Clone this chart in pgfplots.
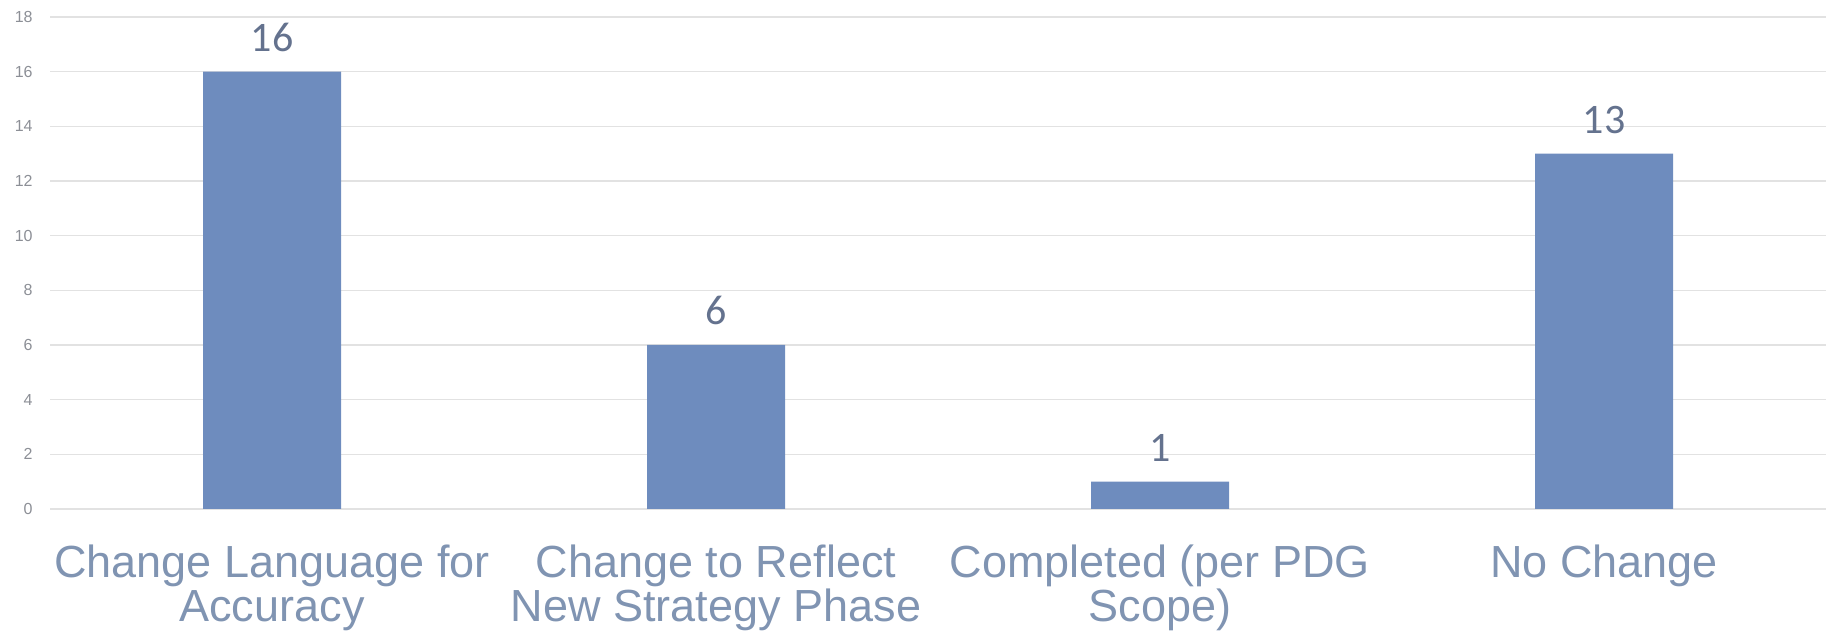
\documentclass[border=0pt]{standalone}
\usepackage{fontspec}
\setmainfont{Liberation Sans}
\newfontfamily\calib{Carlito}
\usepackage{pgfplots}
\pgfplotsset{compat=1.18}
\definecolor{barc}{RGB}{110,140,190}
\definecolor{xlab}{RGB}{128,148,178}
\definecolor{vlab}{RGB}{100,114,142}
\definecolor{tlab}{RGB}{140,143,150}
\definecolor{gridc}{RGB}{226,226,226}
\begin{document}
\begin{tikzpicture}
\begin{axis}[
  name=ax,
  scale only axis,
  width=888pt, height=246pt,
  xmin=-0.5, xmax=3.5,
  ymin=0, ymax=18,
  ytick={0,2,...,18},
  xtick={0,1,2,3},
  xticklabels={{Change Language for\\Accuracy},{Change to Reflect\\New Strategy Phase},{Completed (per PDG\\Scope)},{No Change}},
  xticklabel style={align=center, font=\fontsize{22.5}{22}\selectfont, text=xlab, inner sep=0pt, yshift=-17.5pt},
  yticklabel style={font=\fontsize{8}{9}\selectfont, text=tlab, inner sep=0pt, xshift=-8.5pt},
  /pgf/number format/assume math mode=true,
  axis line style={draw=none},
  major tick length=0pt,
  ymajorgrids,
  major grid style={gridc, line width=0.8pt},
  ybar,
  bar width=69pt,
  nodes near coords,
  nodes near coords style={font=\calib\fontsize{21}{24}\selectfont, text=vlab, anchor=base, yshift=10pt},
  clip=false,
]
\addplot[fill=barc, draw=none] coordinates {(0,16) (1,6) (2,1) (3,13)};
\end{axis}
\path[use as bounding box] ([xshift=-25pt,yshift=-65pt]ax.south west) rectangle ([xshift=6.5pt,yshift=8.5pt]ax.north east);
\end{tikzpicture}
\end{document}
